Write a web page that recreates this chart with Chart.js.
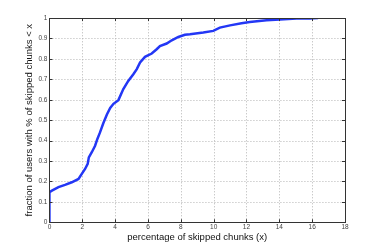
<!DOCTYPE html>
<html><head><meta charset="utf-8">
<script src="https://cdn.jsdelivr.net/npm/chart.js@4"></script>
<style>html,body{margin:0;padding:0;background:#fff}#w{width:382px;height:251px}</style>
</head><body><div id="w"><canvas id="c" width="382" height="251"></canvas></div>
<script>
const xValues = [0, 0, 0.15, 0.55, 0.95, 1.36, 1.77, 1.97, 2.17, 2.33, 2.4, 2.58, 2.78, 2.92, 3.08, 3.28, 3.5, 3.7, 3.9, 4.2, 4.5, 4.8, 5.11, 5.32, 5.52, 5.82, 6.23, 6.53, 6.73, 7.14, 7.45, 7.85, 8.25, 8.56, 9.37, 9.98, 10.38, 11.0, 11.7, 12.2, 13.22, 14.03, 15.05, 15.86, 16.36];
const yValues = [0, 0.147, 0.155, 0.172, 0.183, 0.196, 0.212, 0.237, 0.261, 0.286, 0.318, 0.343, 0.375, 0.408, 0.44, 0.485, 0.528, 0.56, 0.58, 0.598, 0.652, 0.692, 0.725, 0.75, 0.782, 0.81, 0.826, 0.847, 0.863, 0.875, 0.891, 0.907, 0.918, 0.92, 0.929, 0.937, 0.953, 0.964, 0.974, 0.98, 0.989, 0.993, 0.997, 0.998, 1.0];
const xTicks = [0, 2, 4, 6, 8, 10, 12, 14, 16, 18];
const yTicks = [0, 0.1, 0.2, 0.3, 0.4, 0.5, 0.6, 0.7, 0.8, 0.9, 1];
const xTitle = 'percentage of skipped chunks (x)';
const yTitle = 'fraction of users with % of skipped chunks < x';

const points = xValues.map((x, i) => ({x, y: yValues[i]}));
const tickFont = {family: 'Liberation Sans', size: 6.5};
const titleFont = {family: 'Liberation Sans', size: 9.5};
const frame = {
  id: 'frame',
  beforeDatasetsDraw(chart) {
    const {ctx, chartArea: a, scales} = chart;
    ctx.save();
    ctx.strokeStyle = '#b4b4b4';
    ctx.lineWidth = 1;
    ctx.setLineDash([1, 2]);
    ctx.beginPath();
    xTicks.forEach(v => {
      const p = Math.round(scales.x.getPixelForValue(v)) + 0.5;
      ctx.moveTo(p, a.bottom); ctx.lineTo(p, a.top);
    });
    yTicks.forEach(v => {
      const p = Math.round(scales.y.getPixelForValue(v)) + 0.5;
      ctx.moveTo(a.left, p); ctx.lineTo(a.right, p);
    });
    ctx.stroke();
    ctx.restore();
  },
  afterDraw(chart) {
    const {ctx, chartArea: a, scales} = chart;
    ctx.save();
    ctx.strokeStyle = '#333';
    ctx.lineWidth = 1;
    ctx.beginPath();
    xTicks.forEach(v => {
      const p = Math.round(scales.x.getPixelForValue(v)) + 0.5;
      ctx.moveTo(p, a.bottom); ctx.lineTo(p, a.bottom - 3);
      ctx.moveTo(p, a.top); ctx.lineTo(p, a.top + 3);
    });
    yTicks.forEach(v => {
      const p = Math.round(scales.y.getPixelForValue(v)) + 0.5;
      ctx.moveTo(a.left, p); ctx.lineTo(a.left + 3, p);
      ctx.moveTo(a.right, p); ctx.lineTo(a.right - 3, p);
    });
    ctx.stroke();
    ctx.strokeRect(Math.round(a.left) + 0.5, Math.round(a.top) + 0.5, Math.round(a.right - a.left), Math.round(a.bottom - a.top));
    ctx.restore();
  }
};
new Chart(document.getElementById('c'), {
  type: 'line',
  data: {datasets: [{data: points, borderColor: 'rgb(35,55,245)', borderWidth: 2.5, pointRadius: 0, tension: 0, fill: false}]},
  options: {
    responsive: false, animation: false,
    layout: {padding: {left: 24, right: 37, top: 18, bottom: 7.5}},
    plugins: {legend: {display: false}, tooltip: {enabled: false}},
    scales: {
      x: {type: 'linear', min: 0, max: 18,
        afterBuildTicks: s => { s.ticks = xTicks.map(v => ({value: v})); },
        grid: {display: false, drawTicks: false},
        border: {display: false},
        ticks: {font: tickFont, color: '#444', padding: 1, maxRotation: 0, autoSkip: false},
        title: {display: true, text: xTitle, font: titleFont, color: '#111', padding: {top: 0, bottom: 0}}
      },
      y: {min: 0, max: 1,
        afterBuildTicks: s => { s.ticks = yTicks.map(v => ({value: v})); },
        grid: {display: false, drawTicks: false},
        border: {display: false},
        ticks: {font: tickFont, color: '#444', padding: 2, autoSkip: false, callback: v => String(v)},
        title: {display: true, text: yTitle, font: titleFont, color: '#111', padding: {top: 0, bottom: 1}}
      }
    }
  },
  plugins: [frame]
});
</script>
</body></html>
